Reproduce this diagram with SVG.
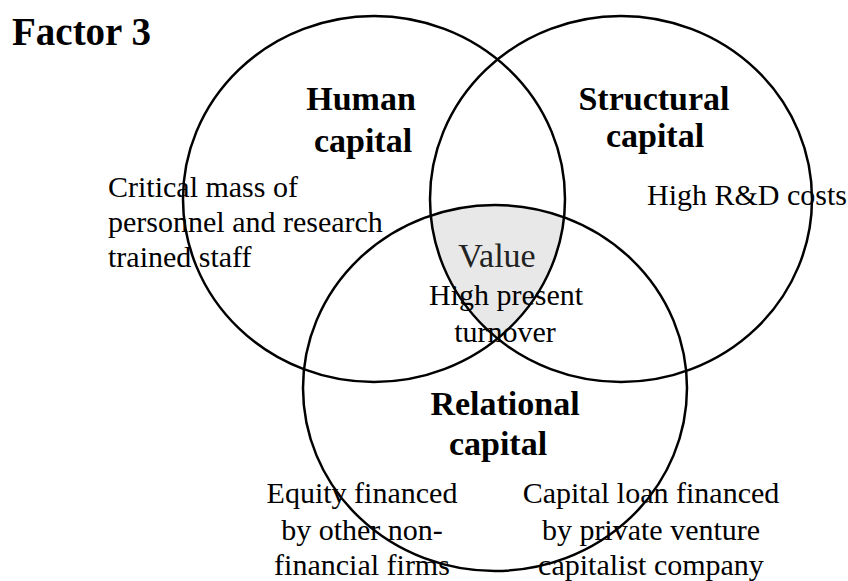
<svg xmlns="http://www.w3.org/2000/svg" width="848" height="581" viewBox="0 0 848 581">
  <style>
    .ring { fill: none; stroke: #000; stroke-width: 2.5; }
    .head { font-family: "Liberation Serif", "Times New Roman", serif; font-weight: bold; font-size: 34px; fill: #000; }
    .body { font-family: "Liberation Serif", "Times New Roman", serif; font-size: 30px; fill: #000; }
    .mid { text-anchor: middle; }
  </style>
  <defs>
    <clipPath id="clipHuman"><ellipse cx="374" cy="199" rx="191" ry="183"/></clipPath>
    <clipPath id="clipStructural"><ellipse cx="621" cy="199" rx="191" ry="183"/></clipPath>
  </defs>

  <rect width="848" height="581" fill="#fff"/>

  <text class="head" x="12" y="45" style="font-size:39px">Factor 3</text>

  <!-- shared centre of the three capitals -->
  <g id="value">
    <g clip-path="url(#clipHuman)">
      <g clip-path="url(#clipStructural)">
        <ellipse cx="495" cy="388" rx="192" ry="183" fill="#e8e8e8"/>
      </g>
    </g>
    <text class="body mid" x="497" y="267" style="font-size:34px;fill:#222">Value</text>
    <text class="body mid" x="506" y="305">High present</text>
    <text class="body mid" x="505" y="342">turnover</text>
  </g>

  <g id="human">
    <ellipse class="ring" cx="374" cy="199" rx="191" ry="183"/>
    <text class="head mid" x="361" y="110">Human</text>
    <text class="head mid" x="363" y="152">capital</text>
    <text class="body" x="108" y="197">Critical mass of</text>
    <text class="body" x="108" y="232">personnel and research</text>
    <text class="body" x="108" y="267">trained staff</text>
  </g>

  <g id="structural">
    <ellipse class="ring" cx="621" cy="199" rx="191" ry="183"/>
    <text class="head mid" x="654" y="110">Structural</text>
    <text class="head mid" x="655" y="147">capital</text>
    <text class="body" x="647" y="205">High R&amp;D costs</text>
  </g>

  <g id="relational">
    <ellipse class="ring" cx="495" cy="388" rx="192" ry="183"/>
    <text class="head mid" x="505" y="415">Relational</text>
    <text class="head mid" x="498" y="455">capital</text>
    <text class="body mid" x="362" y="503">Equity financed</text>
    <text class="body mid" x="362" y="540">by other non-</text>
    <text class="body mid" x="362" y="575">financial firms</text>
    <text class="body mid" x="651" y="503">Capital loan financed</text>
    <text class="body mid" x="651" y="540">by private venture</text>
    <text class="body mid" x="651" y="575">capitalist company</text>
  </g>
</svg>
